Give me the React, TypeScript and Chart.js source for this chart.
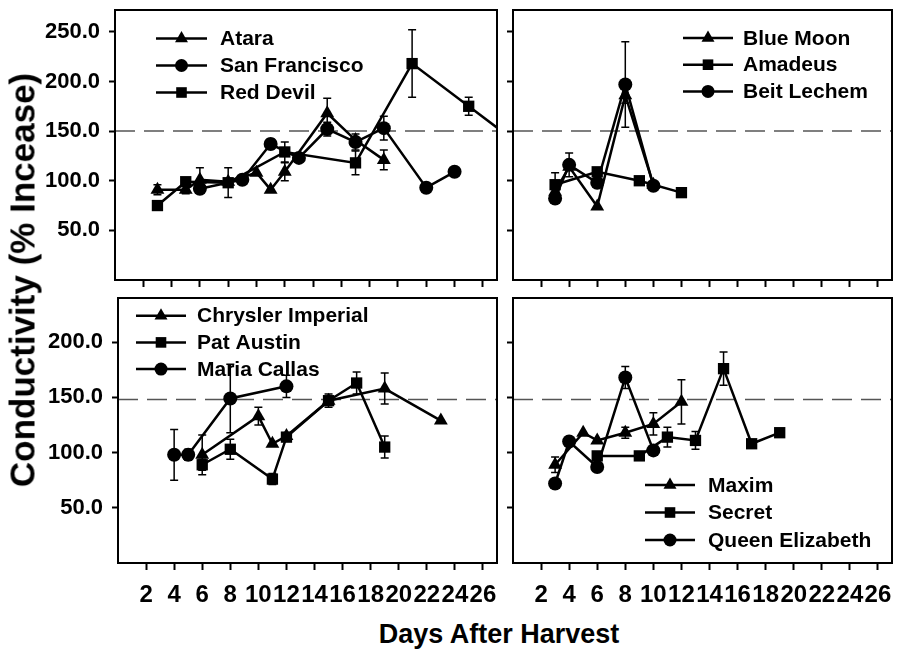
import React, { useEffect, useRef } from "react";
import { Chart, registerables } from "chart.js";
Chart.register(...registerables);

const FONT = '"Liberation Sans", Arial, Helvetica, sans-serif';

// ---------- axes ----------
const xTicks = [2, 4, 6, 8, 10, 12, 14, 16, 18, 20, 22, 24, 26];
const xTickLabels = ["2", "4", "6", "8", "10", "12", "14", "16", "18", "20", "22", "24", "26"];
const xMin = 0;
const xMax = 27;
const topYTicks = [50, 100, 150, 200, 250];
const topYTickLabels = ["50.0", "100.0", "150.0", "200.0", "250.0"];
const bottomYTicks = [50, 100, 150, 200];
const bottomYTickLabels = ["50.0", "100.0", "150.0", "200.0"];
const topYMax = 272;
const bottomYMax = 240;
const topThreshold = 150;
const bottomThreshold = 148;

// ---------- panel 1 ----------
const ataraDays = [3, 5, 6, 8, 10, 11, 12, 15, 17, 19];
const ataraValues = [91, 91, 101, 99, 108, 91, 109, 168, 141, 121];
const ataraErrors = [5, 4, 12, 3, 0, 0, 9, 15, 0, 10];
const sanFranciscoDays = [6, 9, 11, 13, 15, 17, 19, 22, 24];
const sanFranciscoValues = [92, 101, 137, 123, 152, 139, 153, 93, 109];
const sanFranciscoErrors = [0, 0, 5, 0, 7, 8, 12, 0, 0];
const redDevilDays = [3, 5, 8, 12, 17, 21, 25, 29];
const redDevilValues = [75, 99, 98, 129, 118, 218, 175, 132];
const redDevilErrors = [0, 4, 15, 10, 12, 34, 9, 0];

// ---------- panel 2 ----------
const blueMoonDays = [3, 4, 6, 8, 10];
const blueMoonValues = [89, 114, 74, 186, 96];
const blueMoonErrors = [6, 0, 0, 8, 0];
const amadeusDays = [3, 6, 9, 12];
const amadeusValues = [96, 109, 100, 88];
const amadeusErrors = [12, 0, 0, 0];
const beitLechemDays = [3, 4, 6, 8, 10];
const beitLechemValues = [82, 116, 98, 197, 95];
const beitLechemErrors = [0, 12, 0, 43, 0];

// ---------- panel 3 ----------
const chryslerDays = [6, 10, 11, 12, 15, 19, 23];
const chryslerValues = [98, 133, 108, 115, 147, 158, 129];
const chryslerErrors = [18, 8, 0, 0, 6, 14, 0];
const patAustinDays = [6, 8, 11, 12, 15, 17, 19];
const patAustinValues = [89, 103, 76, 114, 147, 163, 105];
const patAustinErrors = [5, 9, 5, 0, 0, 10, 10];
const mariaCallasDays = [4, 5, 8, 12];
const mariaCallasValues = [98, 98, 149, 160];
const mariaCallasErrors = [23, 5, 31, 10];

// ---------- panel 4 ----------
const maximDays = [3, 5, 6, 8, 10, 12];
const maximValues = [89, 118, 111, 118, 126, 146];
const maximErrors = [7, 0, 0, 5, 10, 20];
const secretDays = [6, 9, 11, 13, 15, 17, 19];
const secretValues = [97, 97, 114, 111, 176, 108, 118];
const secretErrors = [0, 0, 9, 8, 15, 0, 0];
const queenDays = [3, 4, 6, 8, 10];
const queenValues = [72, 110, 87, 168, 102];
const queenErrors = [0, 0, 0, 10, 0];

type Marker = "triangle" | "circle" | "rect";
type Series = { label: string; days: number[]; values: number[]; errors: number[]; marker: Marker };

const RADIUS: Record<Marker, number> = { triangle: 8, circle: 7, rect: 8 };
const LEG_RADIUS: Record<Marker, number> = { triangle: 7.5, circle: 6.5, rect: 7.5 };

function drawMarker(ctx: CanvasRenderingContext2D, m: Marker, x: number, y: number, r: number) {
  ctx.beginPath();
  if (m === "circle") {
    ctx.arc(x, y, r, 0, Math.PI * 2);
  } else if (m === "rect") {
    const s = r * Math.SQRT1_2;
    ctx.rect(x - s, y - s, 2 * s, 2 * s);
  } else {
    ctx.moveTo(x, y - r);
    ctx.lineTo(x + 0.866 * r, y + 0.5 * r);
    ctx.lineTo(x - 0.866 * r, y + 0.5 * r);
    ctx.closePath();
  }
  ctx.fill();
}

type PanelProps = {
  left: number; top: number; width: number; height: number;
  padding: { left: number; top: number; right: number; bottom: number };
  yAxisWidth: number; xAxisHeight: number;
  yTicks: number[]; yTickLabels: string[]; yMax: number;
  showYLabels: boolean; showXLabels: boolean;
  threshold: number;
  series: Series[];
  legend: { x: number; y: number; lineLen: number; textX: number; gap: number };
};

function Panel(p: PanelProps) {
  const ref = useRef<HTMLCanvasElement>(null);
  useEffect(() => {
    const canvas = ref.current!;
    const overlay = {
      id: "overlay",
      beforeDatasetsDraw(chart: any) {
        const { ctx, chartArea } = chart;
        const y = chart.scales.y.getPixelForValue(p.threshold);
        ctx.save();
        ctx.strokeStyle = "#555";
        ctx.lineWidth = 1.5;
        ctx.setLineDash([20, 9]);
        ctx.beginPath();
        ctx.moveTo(chartArea.left, y);
        ctx.lineTo(chartArea.right, y);
        ctx.stroke();
        ctx.restore();
      },
      afterDatasetsDraw(chart: any) {
        const { ctx, chartArea } = chart;
        const xs = chart.scales.x, ys = chart.scales.y;
        ctx.save();
        ctx.beginPath();
        ctx.rect(chartArea.left, chartArea.top, chartArea.right - chartArea.left, chartArea.bottom - chartArea.top);
        ctx.clip();
        ctx.strokeStyle = "#000";
        ctx.lineWidth = 1.5;
        p.series.forEach((s) => {
          s.days.forEach((d, i) => {
            const e = s.errors[i];
            if (!e) return;
            const px = xs.getPixelForValue(d);
            const t = ys.getPixelForValue(s.values[i] + e);
            const b = ys.getPixelForValue(s.values[i] - e);
            ctx.beginPath();
            ctx.moveTo(px, t); ctx.lineTo(px, b);
            ctx.moveTo(px - 4, t); ctx.lineTo(px + 4, t);
            ctx.moveTo(px - 4, b); ctx.lineTo(px + 4, b);
            ctx.stroke();
          });
        });
        ctx.restore();
      },
      afterDraw(chart: any) {
        const { ctx, chartArea } = chart;
        ctx.save();
        ctx.strokeStyle = "#000";
        ctx.lineWidth = 2;
        ctx.strokeRect(chartArea.left, chartArea.top, chartArea.right - chartArea.left, chartArea.bottom - chartArea.top);
        // legend
        const L = p.legend;
        ctx.font = `bold 21px ${FONT}`;
        ctx.textBaseline = "middle";
        ctx.textAlign = "left";
        ctx.fillStyle = "#000";
        p.series.forEach((s, i) => {
          const y = L.y + i * L.gap;
          ctx.beginPath();
          ctx.moveTo(L.x, y);
          ctx.lineTo(L.x + L.lineLen, y);
          ctx.lineWidth = 2.5;
          ctx.stroke();
          drawMarker(ctx, s.marker, L.x + L.lineLen / 2, y, LEG_RADIUS[s.marker]);
          ctx.fillText(s.label, L.textX, y + 1);
        });
        ctx.restore();
      },
    };

    const zeroPad = (s: any) => {
      s.paddingLeft = 0; s.paddingRight = 0; s.paddingTop = 0; s.paddingBottom = 0;
    };

    const chart = new Chart(canvas, {
      type: "scatter",
      data: {
        datasets: p.series.map((s) => ({
          label: s.label,
          data: s.days.map((d, i) => ({ x: d, y: s.values[i] })),
          showLine: true,
          borderColor: "#000",
          backgroundColor: "#000",
          borderWidth: 2.5,
          pointStyle: s.marker,
          pointRadius: RADIUS[s.marker],
          pointHoverRadius: RADIUS[s.marker],
          pointBorderWidth: 0,
          clip: { left: 10, top: 10, right: 0, bottom: 10 },
        })),
      },
      options: {
        animation: false,
        responsive: false,
        devicePixelRatio: 1,
        events: [],
        layout: { padding: p.padding },
        plugins: { legend: { display: false }, tooltip: { enabled: false } },
        scales: {
          x: {
            type: "linear",
            min: xMin,
            max: xMax,
            afterBuildTicks: (s: any) => { s.ticks = xTicks.map((v) => ({ value: v })); },
            afterFit: (s: any) => { s.height = p.xAxisHeight; zeroPad(s); },
            grid: { display: true, drawOnChartArea: false, drawTicks: true, tickLength: 7, tickWidth: 2, tickColor: "#000" },
            border: { display: true, color: "#000", width: 2 },
            ticks: {
              display: p.showXLabels,
              autoSkip: false,
              maxRotation: 0,
              minRotation: 0,
              padding: 11,
              color: "#000",
              font: { family: FONT, size: 24, weight: "bold" },
              callback: (v: any) => xTickLabels[xTicks.indexOf(Number(v))] ?? "",
            },
          },
          y: {
            type: "linear",
            min: 0,
            max: p.yMax,
            afterBuildTicks: (s: any) => { s.ticks = p.yTicks.map((v) => ({ value: v })); },
            afterFit: (s: any) => { s.width = p.yAxisWidth; zeroPad(s); },
            grid: { display: true, drawOnChartArea: false, drawTicks: true, tickLength: 6, tickWidth: 2, tickColor: "#000" },
            border: { display: true, color: "#000", width: 2 },
            ticks: {
              display: p.showYLabels,
              padding: 9,
              color: "#000",
              font: { family: FONT, size: 22, weight: "bold" },
              callback: (v: any) => p.yTickLabels[p.yTicks.indexOf(Number(v))] ?? "",
            },
          },
        },
      } as any,
      plugins: [overlay],
    });
    return () => chart.destroy();
  }, []);
  return (
    <canvas
      ref={ref}
      width={p.width}
      height={p.height}
      style={{ position: "absolute", left: p.left, top: p.top, width: p.width, height: p.height }}
    />
  );
}

const panel1: Series[] = [
  { label: "Atara", days: ataraDays, values: ataraValues, errors: ataraErrors, marker: "triangle" },
  { label: "San Francisco", days: sanFranciscoDays, values: sanFranciscoValues, errors: sanFranciscoErrors, marker: "circle" },
  { label: "Red Devil", days: redDevilDays, values: redDevilValues, errors: redDevilErrors, marker: "rect" },
];
const panel2: Series[] = [
  { label: "Blue Moon", days: blueMoonDays, values: blueMoonValues, errors: blueMoonErrors, marker: "triangle" },
  { label: "Amadeus", days: amadeusDays, values: amadeusValues, errors: amadeusErrors, marker: "rect" },
  { label: "Beit Lechem", days: beitLechemDays, values: beitLechemValues, errors: beitLechemErrors, marker: "circle" },
];
const panel3: Series[] = [
  { label: "Chrysler Imperial", days: chryslerDays, values: chryslerValues, errors: chryslerErrors, marker: "triangle" },
  { label: "Pat Austin", days: patAustinDays, values: patAustinValues, errors: patAustinErrors, marker: "rect" },
  { label: "Maria Callas", days: mariaCallasDays, values: mariaCallasValues, errors: mariaCallasErrors, marker: "circle" },
];
const panel4: Series[] = [
  { label: "Maxim", days: maximDays, values: maximValues, errors: maximErrors, marker: "triangle" },
  { label: "Secret", days: secretDays, values: secretValues, errors: secretErrors, marker: "rect" },
  { label: "Queen Elizabeth", days: queenDays, values: queenValues, errors: queenErrors, marker: "circle" },
];

export default function App() {
  return (
    <div style={{ position: "absolute", left: 0, top: 0, width: 900, height: 655, background: "#fff", fontFamily: FONT, overflow: "hidden" }}>
      <Panel
        left={0} top={0} width={505} height={295}
        padding={{ left: 0, top: 10, right: 3, bottom: 0 }}
        yAxisWidth={115} xAxisHeight={15}
        yTicks={topYTicks} yTickLabels={topYTickLabels} yMax={topYMax}
        showYLabels={true} showXLabels={false}
        threshold={topThreshold}
        series={panel1}
        legend={{ x: 156, y: 38.5, lineLen: 51, textX: 220, gap: 27 }}
      />
      <Panel
        left={505} top={0} width={395} height={295}
        padding={{ left: 0, top: 10, right: 2, bottom: 0 }}
        yAxisWidth={8} xAxisHeight={15}
        yTicks={topYTicks} yTickLabels={topYTickLabels} yMax={topYMax}
        showYLabels={false} showXLabels={false}
        threshold={topThreshold}
        series={panel2}
        legend={{ x: 178, y: 38, lineLen: 50, textX: 238, gap: 26.7 }}
      />
      <Panel
        left={0} top={290} width={505} height={325}
        padding={{ left: 0, top: 3, right: 3, bottom: 0 }}
        yAxisWidth={118} xAxisHeight={52}
        yTicks={bottomYTicks} yTickLabels={bottomYTickLabels} yMax={bottomYMax}
        showYLabels={true} showXLabels={true}
        threshold={bottomThreshold}
        series={panel3}
        legend={{ x: 136, y: 25.7, lineLen: 50, textX: 197, gap: 26.7 }}
      />
      <Panel
        left={505} top={290} width={395} height={325}
        padding={{ left: 0, top: 3, right: 2, bottom: 0 }}
        yAxisWidth={8} xAxisHeight={52}
        yTicks={bottomYTicks} yTickLabels={bottomYTickLabels} yMax={bottomYMax}
        showYLabels={false} showXLabels={true}
        threshold={bottomThreshold}
        series={panel4}
        legend={{ x: 140, y: 195, lineLen: 50, textX: 203, gap: 27.5 }}
      />
      <div
        style={{
          position: "absolute", left: 22, top: 280, transform: "translate(-50%, -50%) rotate(-90deg)",
          whiteSpace: "nowrap", fontWeight: "bold", fontSize: 35, lineHeight: 1, color: "#000",
        }}
      >
        Conductivity (% Incease)
      </div>
      <div
        style={{
          position: "absolute", left: 499, top: 634, transform: "translate(-50%, -50%)",
          whiteSpace: "nowrap", fontWeight: "bold", fontSize: 27, lineHeight: 1, color: "#000",
        }}
      >
        Days After Harvest
      </div>
    </div>
  );
}
